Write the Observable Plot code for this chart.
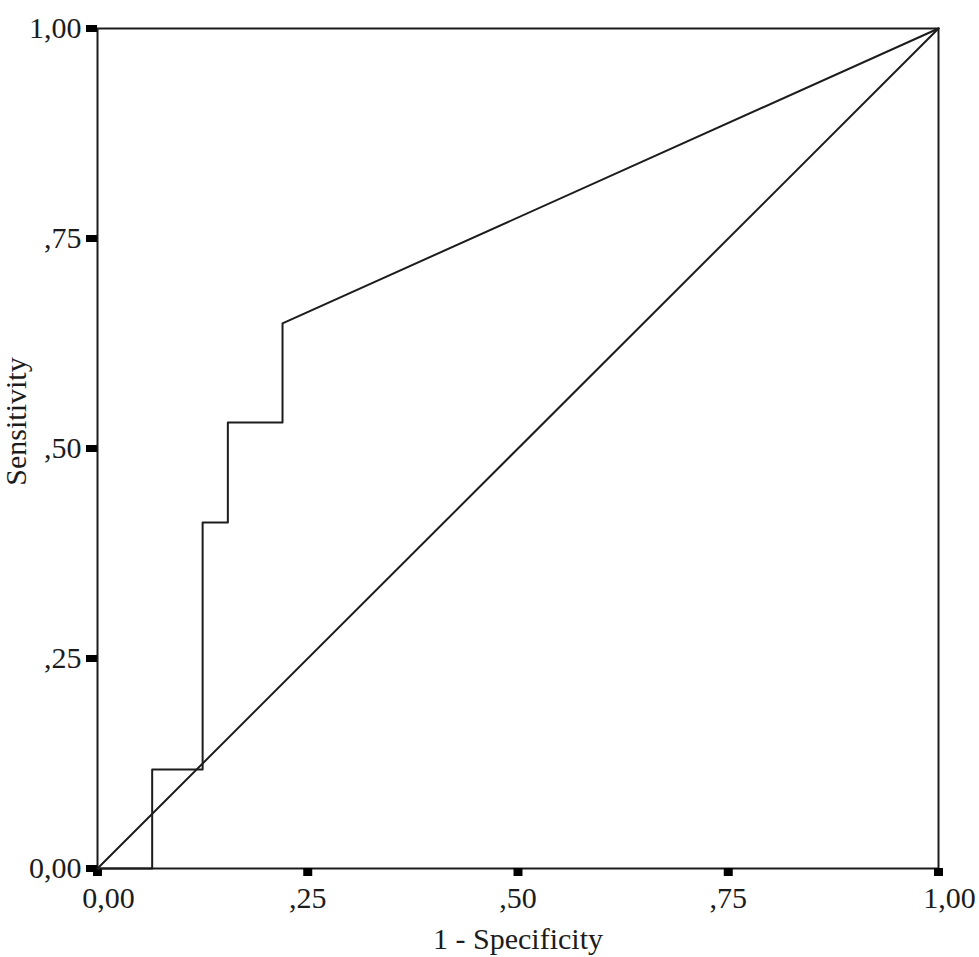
<!DOCTYPE html>
<html>
<head>
<meta charset="utf-8">
<script src="https://cdn.jsdelivr.net/npm/d3@7"></script>
<script src="https://cdn.jsdelivr.net/npm/@observablehq/plot@0.6"></script>
<style>
  html, body { margin: 0; padding: 0; background: #fff; }
  #chart svg { display: block; }
</style>
</head>
<body>
<div id="chart"></div>
<script>
// ROC curve points (1 - Specificity, Sensitivity)
const fpr = [0, 0.065, 0.065, 0.125, 0.125, 0.155, 0.155, 0.22, 0.22, 1];
const tpr = [0, 0, 0.118, 0.118, 0.412, 0.412, 0.531, 0.531, 0.649, 1];
// Reference diagonal
const diagX = [0, 1];
const diagY = [0, 1];
// Ticks
const xTicks = [0, 0.25, 0.5, 0.75, 1];
const yTicks = [0, 0.25, 0.5, 0.75, 1];
const xTickLabels = ["0,00", ",25", ",50", ",75", "1,00"];
const yTickLabels = ["0,00", ",25", ",50", ",75", "1,00"];
const xTitle = "1 - Specificity";
const yTitle = "Sensitivity";

const roc = fpr.map((x, i) => ({x, y: tpr[i]}));
const diag = diagX.map((x, i) => ({x, y: diagY[i]}));
const xLab = xTicks.map((v, i) => ({v, t: xTickLabels[i]}));
const yFmt = v => yTickLabels[yTicks.indexOf(v)];

const ink = "#1c1c1c";
const plot = Plot.plot({
  width: 979,
  height: 957,
  marginLeft: 97,
  marginRight: 41,
  marginTop: 28,
  marginBottom: 89,
  style: {fontFamily: "'Liberation Serif', 'Times New Roman', serif", fontSize: "30px", color: ink, background: "#fff"},
  x: {domain: [0, 1]},
  y: {domain: [0, 1]},
  marks: [
    Plot.frame({stroke: ink, strokeWidth: 2}),
    Plot.axisY({ticks: yTicks, tickSize: 11, strokeWidth: 7, stroke: "#000", tickPadding: 5, tickFormat: yFmt, label: null, fontSize: 30}),
    Plot.axisX({ticks: xTicks, tickSize: 8, strokeWidth: 9, stroke: "#000", tickFormat: () => "", label: null}),
    Plot.text(xLab.filter(d => d.v > 0 && d.v < 1), {x: "v", text: "t", frameAnchor: "bottom", lineAnchor: "middle", textAnchor: "middle", dy: 30, fontSize: 30, fill: ink}),
    Plot.text(xLab.filter(d => d.v === 0 || d.v === 1), {x: "v", text: "t", frameAnchor: "bottom", lineAnchor: "middle", textAnchor: "middle", dy: 30, dx: 11, fontSize: 30, fill: ink}),
    Plot.text([xTitle], {frameAnchor: "bottom", lineAnchor: "middle", textAnchor: "middle", dy: 71, fontSize: 30, fill: ink}),
    Plot.text([yTitle], {frameAnchor: "left", lineAnchor: "middle", textAnchor: "middle", dx: -81, dy: -27, rotate: -90, fontSize: 30, fill: ink}),
    Plot.line(diag, {x: "x", y: "y", stroke: ink, strokeWidth: 2}),
    Plot.line(roc, {x: "x", y: "y", stroke: ink, strokeWidth: 2})
  ]
});
document.getElementById("chart").appendChild(plot);
</script>
</body>
</html>
